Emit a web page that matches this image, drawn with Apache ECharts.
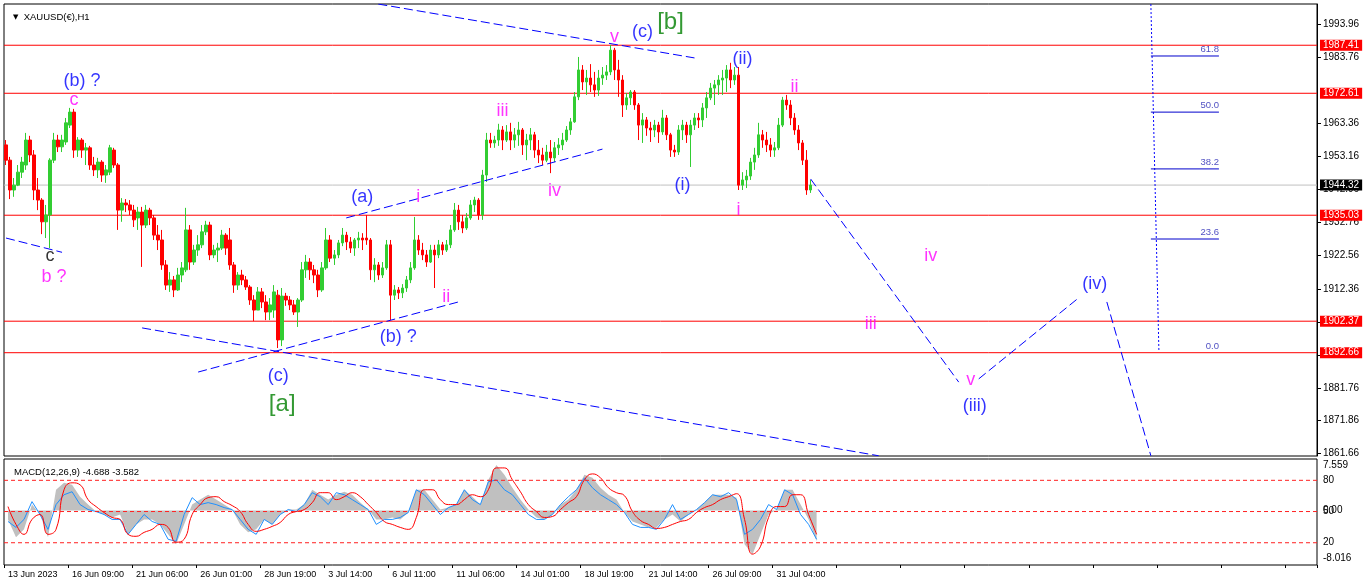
<!DOCTYPE html>
<html><head><meta charset="utf-8">
<script src="https://cdn.jsdelivr.net/npm/echarts@6/dist/echarts.min.js"></script>
<style>html,body{margin:0;padding:0;background:#fff;overflow:hidden}#c{width:1366px;height:588px}</style>
</head><body><div id="c"></div><script>
const FONT = 'Liberation Sans';
// H1 candles grouped, [open, close, low, high]
const candles = [
[1956.7,1952.0,1950.5,1958.2],[1952.0,1942.8,1940.0,1953.0],[1942.8,1944.3,1940.7,1946.5],[1944.3,1948.3,1944.0,1950.5],
[1948.3,1951.4,1946.5,1953.0],[1950.5,1958.2,1949.0,1960.4],[1958.2,1953.6,1951.4,1959.5],[1953.6,1942.8,1939.7,1955.1],
[1942.8,1939.7,1936.6,1946.5],[1939.7,1933.0,1929.2,1940.3],[1933.0,1935.1,1928.0,1938.2],[1935.1,1952.0,1924.9,1952.6],
[1952.0,1958.2,1951.1,1960.4],[1958.2,1956.1,1954.5,1959.8],[1956.1,1958.2,1954.5,1959.8],[1957.6,1963.5,1956.7,1965.0],
[1962.8,1966.8,1961.9,1968.1],[1966.8,1955.1,1952.7,1967.8],[1955.1,1958.2,1953.0,1959.1],[1958.2,1955.1,1952.7,1958.8],
[1955.1,1955.8,1950.5,1957.3],[1955.8,1950.5,1949.0,1956.4],[1950.5,1949.0,1947.1,1953.0],[1949.0,1951.4,1946.5,1952.7],
[1951.4,1947.4,1945.3,1952.0],[1947.4,1949.0,1945.0,1950.5],[1948.3,1955.8,1947.4,1956.7],[1955.1,1950.5,1949.6,1955.8],
[1950.5,1936.6,1930.5,1951.1],[1936.6,1938.8,1933.0,1940.3],[1938.8,1938.2,1936.0,1940.0],[1938.2,1936.6,1935.1,1939.7],
[1936.6,1933.6,1931.4,1938.2],[1934.2,1936.0,1930.5,1937.6],[1936.0,1932.0,1919.1,1937.6],[1932.0,1936.6,1931.1,1938.2],
[1936.6,1934.2,1932.0,1937.3],[1934.2,1928.9,1927.4,1935.1],[1928.9,1927.4,1924.3,1932.0],[1927.4,1919.7,1918.2,1930.5],
[1919.7,1913.5,1912.0,1921.2],[1913.5,1915.1,1911.4,1917.5],[1915.1,1912.0,1909.8,1916.3],[1912.0,1916.6,1911.7,1918.8],
[1916.6,1918.8,1914.4,1920.6],[1918.2,1930.5,1917.5,1937.3],[1930.5,1920.6,1918.2,1932.0],[1920.6,1924.3,1919.7,1925.9],
[1924.3,1925.9,1922.5,1928.9],[1925.9,1929.9,1924.9,1932.0],[1929.9,1932.0,1928.9,1933.3],[1932.0,1922.8,1921.2,1933.0],
[1922.8,1924.3,1921.8,1925.9],[1924.3,1924.9,1920.6,1926.5],[1924.9,1928.9,1924.3,1930.5],[1928.9,1924.9,1922.8,1929.5],
[1927.4,1919.7,1918.2,1931.1],[1919.7,1913.5,1911.1,1920.6],[1913.5,1916.6,1912.0,1917.5],[1916.6,1915.1,1913.5,1918.2],
[1915.1,1912.9,1912.0,1916.3],[1912.9,1908.9,1907.4,1913.5],[1908.9,1905.8,1902.4,1910.4],[1905.8,1911.4,1905.8,1912.9],
[1911.4,1908.3,1906.4,1912.6],[1908.3,1905.2,1902.7,1910.4],[1905.2,1907.4,1902.7,1909.5],[1905.8,1911.4,1903.4,1913.5],
[1910.4,1896.6,1894.1,1912.0],[1896.6,1910.1,1894.7,1912.6],[1910.1,1908.9,1907.1,1911.1],[1908.9,1907.4,1905.8,1910.1],
[1907.4,1905.2,1904.3,1908.9],[1905.2,1908.9,1900.6,1909.5],[1908.9,1918.2,1908.3,1920.6],[1918.2,1920.6,1915.7,1922.8],
[1920.6,1918.2,1915.1,1921.8],[1918.2,1916.6,1914.1,1919.7],[1916.6,1912.0,1909.8,1918.2],[1912.0,1918.8,1911.4,1920.6],
[1918.8,1927.4,1918.2,1931.1],[1927.4,1921.8,1920.6,1928.9],[1921.8,1922.8,1919.7,1924.3],[1922.8,1926.5,1921.8,1927.4],
[1926.5,1928.9,1925.5,1931.1],[1928.9,1926.8,1924.3,1929.9],[1926.8,1924.9,1923.4,1928.3],[1924.9,1927.4,1922.5,1928.0],
[1927.4,1928.0,1924.9,1929.9],[1928.0,1927.4,1924.3,1929.5],[1928.0,1927.4,1925.9,1935.1],[1927.4,1918.2,1915.1,1928.0],
[1918.2,1919.7,1914.4,1921.8],[1919.7,1916.6,1915.1,1920.6],[1916.6,1918.8,1915.7,1920.6],[1918.8,1925.9,1918.2,1927.4],
[1925.9,1910.4,1902.7,1927.4],[1910.4,1912.0,1908.9,1913.5],[1912.0,1911.1,1909.2,1912.9],[1911.1,1912.6,1909.5,1913.8],
[1912.6,1915.1,1911.4,1916.3],[1915.1,1918.8,1914.1,1920.6],[1918.8,1927.4,1918.2,1934.5],[1927.4,1924.3,1922.8,1928.9],
[1924.3,1922.8,1921.2,1926.5],[1922.8,1920.6,1919.1,1924.3],[1920.6,1924.3,1920.3,1925.9],[1924.3,1922.8,1912.6,1925.9],
[1922.8,1925.9,1921.8,1927.4],[1925.9,1924.3,1922.8,1926.8],[1924.3,1925.9,1923.7,1927.4],[1925.9,1930.5,1924.9,1932.0],
[1930.5,1936.6,1929.9,1938.8],[1936.6,1933.0,1930.5,1938.2],[1933.0,1931.1,1929.5,1935.1],[1931.1,1934.2,1930.5,1935.7],
[1934.2,1938.2,1933.6,1939.7],[1938.2,1939.7,1936.0,1940.7],[1939.7,1935.1,1933.6,1940.3],[1935.1,1947.4,1933.6,1949.0],
[1947.4,1958.2,1945.3,1960.4],[1958.2,1957.3,1955.8,1960.4],[1957.3,1958.2,1955.8,1959.5],[1958.2,1961.3,1956.4,1963.2],
[1961.3,1958.2,1955.1,1962.5],[1958.2,1960.7,1957.6,1962.8],[1960.7,1958.2,1955.1,1963.5],[1958.2,1959.8,1955.8,1961.9],
[1959.8,1961.3,1956.4,1963.8],[1961.3,1956.7,1953.6,1961.9],[1956.7,1958.2,1952.0,1960.1],[1958.2,1959.8,1955.1,1961.9],
[1959.8,1955.1,1952.7,1960.7],[1955.1,1953.6,1951.1,1958.2],[1953.6,1952.0,1950.5,1955.8],[1952.0,1954.5,1951.4,1956.7],
[1954.5,1952.7,1948.0,1958.2],[1952.7,1955.8,1951.4,1957.6],[1955.8,1956.7,1953.6,1958.8],[1956.7,1958.2,1955.1,1960.4],
[1958.2,1961.3,1957.6,1962.5],[1961.3,1963.8,1959.8,1965.0],[1963.8,1971.5,1963.5,1973.0],[1971.5,1979.8,1970.5,1983.8],
[1979.8,1976.1,1973.6,1981.3],[1976.1,1977.3,1972.1,1979.8],[1977.3,1975.2,1973.0,1981.6],[1975.2,1973.6,1971.5,1979.2],
[1973.6,1977.3,1971.8,1979.8],[1977.3,1978.2,1975.2,1980.7],[1978.2,1979.2,1976.7,1981.3],[1979.2,1985.9,1978.2,1987.5],
[1985.9,1979.8,1976.7,1986.6],[1979.8,1976.7,1971.5,1982.9],[1976.7,1969.0,1965.3,1978.2],[1969.0,1971.2,1967.5,1972.7],
[1971.2,1973.0,1969.0,1973.6],[1973.0,1969.0,1967.5,1973.6],[1969.0,1962.8,1958.2,1969.6],[1962.8,1964.4,1957.3,1966.5],
[1964.4,1961.9,1959.5,1965.3],[1961.9,1961.3,1957.6,1963.8],[1961.3,1962.8,1959.1,1964.4],[1962.8,1960.7,1957.3,1963.8],
[1960.7,1965.0,1959.8,1967.5],[1965.0,1959.8,1958.2,1965.9],[1959.8,1955.1,1953.0,1960.4],[1955.1,1954.5,1953.0,1956.7],
[1954.5,1961.3,1953.6,1962.8],[1961.3,1962.8,1958.2,1964.4],[1962.8,1959.8,1957.3,1963.8],[1959.8,1962.8,1949.9,1964.4],
[1962.8,1965.0,1961.3,1966.5],[1965.0,1964.4,1961.9,1966.5],[1964.4,1968.1,1962.2,1969.6],[1968.1,1971.2,1965.0,1973.0],
[1971.2,1974.2,1970.5,1975.8],[1974.2,1975.2,1969.0,1976.7],[1975.2,1976.7,1972.1,1978.2],[1976.7,1977.3,1972.1,1979.8],
[1977.3,1979.8,1973.0,1981.3],[1979.8,1976.7,1974.2,1982.0],[1976.7,1978.2,1975.2,1980.7],[1978.2,1944.3,1942.8,1980.7],
[1944.3,1945.9,1942.8,1948.3],[1945.9,1947.1,1943.4,1949.0],[1947.1,1951.4,1945.9,1952.7],[1951.4,1953.6,1949.0,1955.8],
[1953.6,1959.8,1952.7,1963.5],[1959.8,1958.2,1955.8,1961.3],[1958.2,1956.7,1954.5,1960.7],[1956.7,1955.1,1953.0,1958.8],
[1955.1,1955.8,1953.0,1957.6],[1955.8,1962.8,1955.1,1965.0],[1962.8,1970.5,1962.2,1971.5],[1970.5,1969.0,1967.5,1972.1],
[1969.0,1965.0,1962.8,1970.5],[1965.0,1961.3,1959.8,1966.5],[1961.3,1957.3,1955.1,1962.8],[1957.3,1952.0,1950.5,1958.2],
[1952.0,1942.8,1941.3,1955.1],[1942.8,1944.32,1941.9,1945.9]
];
const priceTicks = [1993.96,1983.76,1963.36,1953.16,1942.96,1932.76,1922.56,1912.36,1902.16,1891.96,1881.76,1871.86,1861.66];
const levelLines = [1987.41,1972.61,1935.03,1902.37,1892.66];
const bidPrice = 1944.32;
const fibLabels = ['61.8','50.0','38.2','23.6','0.0'];
const fibPrices = [1984.1,1966.8,1949.3,1927.7,1892.66];
const timeLabels = ['13 Jun 2023','16 Jun 09:00','21 Jun 06:00','26 Jun 01:00','28 Jun 19:00','3 Jul 14:00','6 Jul 11:00','11 Jul 06:00','14 Jul 01:00','18 Jul 19:00','21 Jul 14:00','26 Jul 09:00','31 Jul 04:00'];
const macdHist = [-1.32,-3.95,-2.78,0.86,-0.60,-3.95,3.04,4.06,3.77,2.02,
0.86,-0.16,-0.60,-1.03,-0.60,-3.51,-2.05,-1.32,-1.32,-2.05,
-3.51,-4.96,-2.05,0.86,1.59,2.31,1.59,0.86,0.13,-2.05,
-3.22,-2.78,-1.32,-2.05,-0.60,0.13,0.13,0.86,3.04,2.31,
1.59,2.31,2.75,2.31,1.15,0.13,-1.32,-1.32,-1.03,-1.32,
-0.30,3.04,3.04,1.59,0.13,0.42,0.86,3.04,2.02,0.86,
4.50,6.68,5.23,3.33,1.59,0.13,-1.03,-1.32,-0.60,0.86,
1.59,3.04,5.23,4.79,3.33,2.31,1.59,-0.30,-1.62,-2.05,
-2.49,-2.49,-1.32,-0.60,-1.62,-0.60,0.13,1.15,2.31,2.31,
2.31,1.88,-4.96,-6.42,-3.51,-0.60,0.13,3.04,3.04,0.86,
-1.32,-4.53];
const macdBlue = [-1.62,-2.49,-1.32,1.30,-0.60,-2.78,0.86,2.31,2.75,0.86,
0.13,-0.16,-0.60,-1.32,-1.32,-3.51,-2.05,-0.60,-1.62,-2.05,
-4.24,-4.53,-0.60,1.88,0.86,1.15,0.86,0.42,0.13,-1.32,
-2.78,-3.51,-1.32,-2.05,-0.60,0.13,-0.16,0.86,2.61,2.02,
0.86,2.61,2.31,1.59,0.86,0.13,-2.05,-1.32,-1.32,-1.03,
-0.30,3.04,2.31,0.86,-0.60,0.42,0.86,3.04,1.59,0.86,
4.21,4.50,3.04,2.31,0.86,-0.60,-1.32,-1.32,-0.60,0.86,
2.02,3.04,4.79,3.33,2.31,1.59,0.86,-0.30,-2.05,-2.49,
-2.49,-2.78,-1.32,0.86,-1.32,-0.60,0.13,1.15,2.31,2.02,
2.61,1.59,-3.51,-2.78,-1.32,0.86,0.13,3.04,2.31,-0.60,
-2.05,-4.24];
const macdSignal = [0.57,-2.05,-3.51,-1.32,-0.60,-3.51,-2.78,3.04,4.06,3.77,
1.59,0.57,-0.30,-1.03,-1.32,-3.51,-3.80,-3.22,-2.78,-2.05,
-2.49,-4.67,-4.24,-0.60,0.86,1.88,2.02,1.30,0.71,-0.16,
-2.05,-3.07,-2.78,-2.34,-1.76,-0.60,-0.16,0.13,1.15,2.61,
2.61,1.59,2.02,2.61,2.02,0.86,-0.30,-1.62,-2.05,-2.49,
-2.78,-1.03,3.04,3.04,1.59,0.86,0.86,1.59,2.31,2.02,
3.04,6.25,6.25,4.50,2.75,0.86,-0.16,-1.03,-0.89,0.13,
1.15,2.02,4.50,5.37,4.79,3.33,2.61,2.17,-0.16,-1.47,
-2.05,-2.64,-2.49,-2.05,-1.62,-1.32,-0.30,0.42,0.86,1.59,
2.02,2.46,-1.32,-6.42,-5.26,-1.03,0.57,0.57,2.31,2.31,
-0.60,-3.51];
const macdTicks = [7.559, 0, -8.016];
const levelTicks = [80, 50, 20];
// wave labels: [bar index, price, text]
const blueLabels = [[19,1976.4,'(b) ?'],[89,1940.7,'(a)'],[98,1897.5,'(b) ?'],[68,1885.5,'(c)'],[159,1991.5,'(c)'],[184,1983.2,'(ii)'],[169,1944.3,'(i)'],[242,1876.3,'(iii)'],[272,1913.8,'(iv)']];
const magentaLabels = [[17,1970.5,'c'],[12,1915.9,'b ?'],[103,1940.7,'i'],[110,1909.8,'ii'],[124,1967.2,'iii'],[137,1942.5,'iv'],[152,1990.0,'v'],[197,1974.5,'ii'],[183,1936.6,'i'],[231,1922.5,'iv'],[216,1901.5,'iii'],[241,1884.2,'v']];
const greenLabels = [[69,1876.6,'[a]'],[166,1994.6,'[b]']];
const blackLabels = [[11,1922.5,'c']];
// trend/projection lines: pairs of [bar index, price]
const trendLines = [
 [[0,1928.0],[14,1923.6]],
 [[34,1900.3],[218,1860.9]],
 [[48,1886.7],[113,1908.3]],
 [[85,1934.2],[149,1955.4]],
 [[93,2000.1],[172,1983.5]],
 [[201,1946.2],[238,1883.6]],
 [[243,1884.6],[268,1909.6]],
 [[275,1908.3],[286,1860.9]]
];
const fibAnchor = [[286,2000.1],[288,1893.5]];
const fibStart = 286, fibEnd = 303;

const N_MAIN = 328, N_MACD = 164;
const mainCats = Array.from({length:N_MAIN}, (_, i) => String(i));
const macdCats = Array.from({length:N_MACD}, (_, i) => String(i));

function labelSeries(arr, color, size) {
  return {
    type:'scatter', xAxisIndex:0, yAxisIndex:0, symbolSize:1, silent:true, z:10,
    itemStyle:{color:'rgba(0,0,0,0)'},
    data: arr.map(d => ({value:[d[0], d[1]], name:d[2]})),
    label:{show:true, position:'inside', formatter: p => p.name, color, fontSize:size, fontFamily:FONT}
  };
}
// full-width horizontal line on the auxiliary 0..1 x axis
function hLine(xIdx, yIdx, v, color, type, z) {
  return {type:'line', xAxisIndex:xIdx, yAxisIndex:yIdx, data:[[0,v],[1,v]], symbol:'none', silent:true, z:z,
    lineStyle:{color:color, width:1, type:type, opacity:1}, itemStyle:{color:color}};
}
function priceBox(v, bg) {
  return {type:'scatter', xAxisIndex:2, yAxisIndex:0, symbolSize:0, silent:true, z:20, itemStyle:{color:bg},
    data:[{value:[1, v], name:v.toFixed(2)}],
    label:{show:true, position:'right', distance:3, formatter:p => p.name, backgroundColor:bg, color:'#ffffff', opacity:1,
      textBorderWidth:0, padding:[1,3,0,3], fontSize:10, fontFamily:FONT}};
}

const series = [];
levelLines.forEach(v => series.push(hLine(2, 0, v, '#ff0000', 'solid', 2)));
series.push(hLine(2, 0, bidPrice, '#c0c0c0', 'solid', 2));
series.push({
  type:'candlestick', xAxisIndex:0, yAxisIndex:0, data:candles, barWidth:3, z:3,
  itemStyle:{color:'#32cd32', color0:'#ff0000', borderColor:'#32cd32', borderColor0:'#ff0000', borderWidth:1},
  silent:true
});
trendLines.forEach(seg => series.push({
  type:'line', xAxisIndex:0, yAxisIndex:0, data:seg, symbol:'none', silent:true, z:4,
  lineStyle:{color:'#0000ff', width:1, type:[9,4]}
}));
series.push({type:'line', xAxisIndex:0, yAxisIndex:0, data:fibAnchor, symbol:'none', silent:true, z:4,
  lineStyle:{color:'#0000ff', width:1, type:[2,2]}});
fibPrices.forEach((p, i) => {
  if (fibLabels[i] !== '0.0') series.push({type:'line', xAxisIndex:0, yAxisIndex:0, data:[[fibStart,p],[fibEnd,p]], symbol:'none', silent:true, z:4,
    lineStyle:{color:'#0000cc', width:1}});
});
series.push({
  type:'scatter', xAxisIndex:0, yAxisIndex:0, symbolSize:1, silent:true, itemStyle:{color:'rgba(0,0,0,0)'},
  data: fibPrices.map((p, i) => ({value:[fibEnd, p], name:fibLabels[i]})),
  label:{show:true, position:'top', align:'right', distance:1, formatter:p => p.name, color:'#1c1cb0', fontSize:9.5, fontFamily:FONT}
});
series.push(labelSeries(blueLabels, '#0000ff', 18));
series.push(labelSeries(magentaLabels, '#ff00ff', 18));
series.push(labelSeries(greenLabels, '#008000', 24));
series.push(labelSeries(blackLabels, '#000000', 18));
levelLines.forEach(v => series.push(priceBox(v, '#ff0000')));
series.push(priceBox(bidPrice, '#000000'));
// MACD panel
series.push({type:'line', xAxisIndex:1, yAxisIndex:2, data:macdHist, symbol:'none', silent:true,
  lineStyle:{width:0, opacity:0}, areaStyle:{color:'#c0c0c0', opacity:1}, z:1});
series.push({type:'line', xAxisIndex:1, yAxisIndex:2, data:macdBlue, symbol:'none', silent:true,
  lineStyle:{color:'#1e90ff', width:1}, z:3});
series.push({type:'line', xAxisIndex:1, yAxisIndex:2, data:macdSignal, symbol:'none', smooth:true, silent:true,
  lineStyle:{color:'#ff0000', width:1}, z:4});
levelTicks.forEach(v => series.push(hLine(3, 3, v, '#ff2020', [4,3], 10)));

const option = {
  animation:false,
  backgroundColor:'#ffffff',
  textStyle:{fontFamily:FONT},
  title:[
    {text:'{t|▼}  XAUUSD(€),H1', left:8, top:7, textStyle:{fontSize:9.5, fontWeight:'normal', color:'#000', fontFamily:FONT,
      rich:{t:{fontSize:7, fontFamily:'DejaVu Sans', color:'#000'}}}},
    {text:'MACD(12,26,9) -4.688 -3.582', left:9, top:462, textStyle:{fontSize:9.5, fontWeight:'normal', color:'#000', fontFamily:FONT}}
  ],
  grid:[
    {left:4, top:4, width:1313, height:452, show:true, borderColor:'#000', borderWidth:1, backgroundColor:'#fff'},
    {left:4, top:459, width:1313, height:106, show:true, borderColor:'#000', borderWidth:1, backgroundColor:'#fff'}
  ],
  xAxis:[
    {type:'category', gridIndex:0, data:mainCats, boundaryGap:true, axisLine:{show:false, onZero:false}, axisTick:{show:false}, axisLabel:{show:false}, splitLine:{show:false}},
    {type:'category', gridIndex:1, data:macdCats, boundaryGap:true, position:'bottom', axisLine:{show:false, onZero:false},
      axisTick:{show:true, interval:7, length:3, lineStyle:{color:'#000'}},
      axisLabel:{show:true, interval:7, align:'left', margin:5, fontSize:9, color:'#000', fontFamily:FONT,
        formatter:(v, idx) => (idx % 8 === 0 && timeLabels[idx/8]) ? timeLabels[idx/8] : ''},
      splitLine:{show:false}},
    {type:'value', gridIndex:0, min:0, max:1, show:false, axisLine:{show:false, onZero:false}, axisTick:{show:false}, splitLine:{show:false}},
    {type:'value', gridIndex:1, min:0, max:1, show:false, axisLine:{show:false, onZero:false}, axisTick:{show:false}, splitLine:{show:false}}
  ],
  yAxis:[
    {type:'value', gridIndex:0, position:'right', min:1860.83, max:2000.12, scale:true,
      splitLine:{show:false}, axisLine:{show:true, onZero:false, lineStyle:{color:'#000'}},
      axisTick:{show:true, length:4, inside:false, customValues:priceTicks, lineStyle:{color:'#000'}},
      axisLabel:{customValues:priceTicks, formatter:v => v.toFixed(2), fontSize:10, color:'#000', margin:6, fontFamily:FONT}},
    {type:'value', gridIndex:0, show:false, min:0, max:1, splitLine:{show:false}},
    {type:'value', gridIndex:1, position:'right', min:-8.016, max:7.559,
      splitLine:{show:false}, splitArea:{show:false}, minorSplitLine:{show:false}, axisLine:{show:false, onZero:false},
      axisTick:{show:false},
      axisLabel:{customValues:macdTicks, fontSize:10, color:'#000', margin:6, fontFamily:FONT,
        formatter:v => v === 0 ? '0.00' : (v > 0 ? '{a|' + v.toFixed(3) + '}' : '{b|' + v.toFixed(3) + '}'),
        rich:{a:{padding:[13,0,0,0], fontSize:10, fontFamily:FONT}, b:{padding:[0,0,13,0], fontSize:10, fontFamily:FONT}}}},
    {type:'value', gridIndex:1, position:'right', min:-1.4, max:100.5,
      splitLine:{show:false}, splitArea:{show:false}, axisLine:{show:false, onZero:false}, axisTick:{show:false},
      axisLabel:{customValues:levelTicks, formatter:v => String(v), fontSize:10, color:'#000', margin:6, fontFamily:FONT}}
  ],
  series
};
const chart = echarts.init(document.getElementById('c'));
chart.setOption(option);
</script></body></html>
